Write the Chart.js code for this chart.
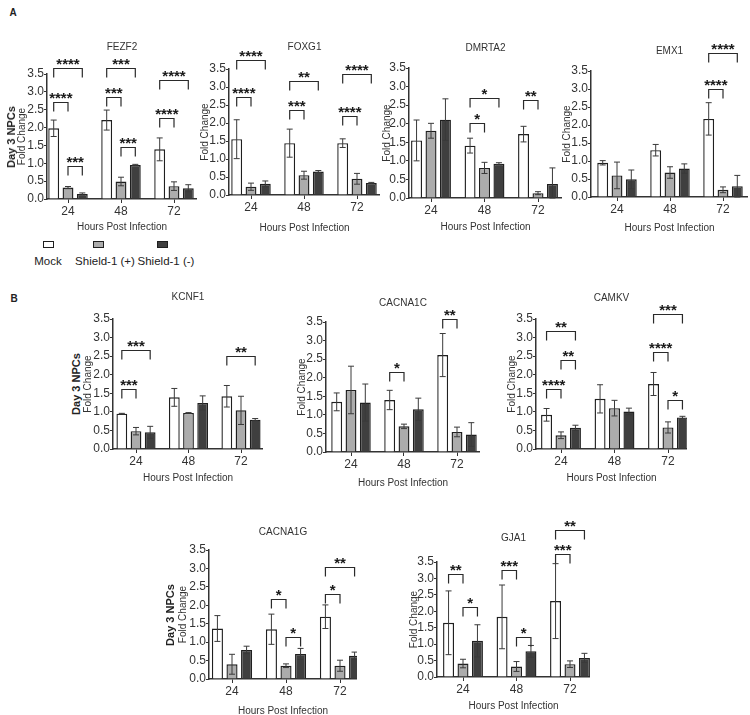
<!DOCTYPE html>
<html>
<head>
<meta charset="utf-8">
<script src="https://cdn.jsdelivr.net/npm/chart.js@4.4.1/dist/chart.umd.min.js"></script>
<style>
  html, body { margin: 0; padding: 0; background: #fff; }
  body { width: 750px; height: 715px; position: relative; overflow: hidden; font-family: 'Liberation Sans', Arial, sans-serif; color: #222; }
  canvas { position: absolute; }
  .txt { position: absolute; white-space: nowrap; }
  .panelLetter { font-weight: bold; font-size: 10px; transform: translate(-50%, -50%); }
  .rowLabel { font-weight: bold; font-size: 11px; transform: translate(-50%, -50%) rotate(-90deg); }
  .legBox { position: absolute; width: 9px; height: 5px; border: 1px solid #1f1f1f; }
  .legText { font-size: 11.5px; transform: translate(-50%, -50%); }
</style>
</head>
<body>

<div class="txt panelLetter" style="left:13px;top:12px">A</div>
<div class="txt panelLetter" style="left:14px;top:298px">B</div>

<!-- legend under FEZF2 -->
<div class="legBox" style="left:43px;top:241px;background:#ffffff"></div>
<div class="legBox" style="left:93px;top:241px;background:#acacac"></div>
<div class="legBox" style="left:157px;top:241px;background:#3f3f3f"></div>
<div class="txt legText" style="left:48px;top:261px">Mock</div>
<div class="txt legText" style="left:105px;top:261px">Shield-1 (+)</div>
<div class="txt legText" style="left:166px;top:261px">Shield-1 (-)</div>

<script>
// x categories and groups
const hours = ['24', '48', '72'];
const groups = ['Mock', 'Shield-1 (+)', 'Shield-1 (-)'];
const fills = ['#ffffff', '#acacac', '#3f3f3f'];

// mean fold change, rows = Mock, Shield-1 (+), Shield-1 (-); columns = 24, 48, 72 h
const fezf2Mean = [[1.98, 2.21, 1.39], [0.32, 0.49, 0.36], [0.14, 0.95, 0.30]];
const fezf2Err = [[0.23, 0.28, 0.32], [0.03, 0.12, 0.12], [0.03, 0.02, 0.10]];
// brackets: [time index, from group, to group, level, stars]
const fezf2Sig = [[0, 0, 2, 3.66, '****'], [0, 0, 1, 2.71, '****'], [0, 1, 2, 0.93, '***'],
                  [1, 0, 2, 3.66, '***'], [1, 0, 1, 2.85, '***'], [1, 1, 2, 1.47, '***'],
                  [2, 0, 2, 3.33, '****'], [2, 0, 1, 2.28, '****']];

const foxg1Mean = [[1.55, 1.44, 1.44], [0.23, 0.55, 0.45], [0.31, 0.65, 0.33]];
const foxg1Err = [[0.54, 0.39, 0.12], [0.10, 0.11, 0.15], [0.08, 0.03, 0.02]];
const foxg1Sig = [[0, 0, 2, 3.75, '****'], [0, 0, 1, 2.73, '****'],
                  [1, 0, 2, 3.17, '**'], [1, 0, 1, 2.35, '***'],
                  [2, 0, 2, 3.35, '****'], [2, 0, 1, 2.20, '****']];

const dmrta2Mean = [[1.55, 1.41, 1.72], [1.81, 0.81, 0.13], [2.11, 0.92, 0.38]];
const dmrta2Err = [[0.55, 0.20, 0.21], [0.20, 0.15, 0.04], [0.56, 0.03, 0.43]];
const dmrta2Sig = [[1, 0, 2, 2.69, '*'], [1, 0, 1, 2.02, '*'], [2, 0, 1, 2.65, '**']];

const emx1Mean = [[0.95, 1.30, 2.17], [0.60, 0.68, 0.20], [0.49, 0.79, 0.30]];
const emx1Err = [[0.06, 0.16, 0.45], [0.37, 0.16, 0.08], [0.26, 0.13, 0.30]];
const emx1Sig = [[2, 0, 2, 4.00, '****'], [2, 0, 1, 2.99, '****']];

const kcnf1Mean = [[0.95, 1.39, 1.42], [0.48, 0.97, 1.04], [0.45, 1.24, 0.79]];
const kcnf1Err = [[0.01, 0.24, 0.29], [0.10, 0.01, 0.38], [0.16, 0.19, 0.03]];
const kcnf1Sig = [[0, 0, 2, 2.67, '***'], [0, 0, 1, 1.62, '***'], [2, 0, 2, 2.51, '**']];

const cacna1cMean = [[1.35, 1.40, 2.61], [1.67, 0.69, 0.54], [1.33, 1.15, 0.47]];
const cacna1cErr = [[0.24, 0.26, 0.58], [0.64, 0.06, 0.13], [0.50, 0.30, 0.32]];
const cacna1cSig = [[1, 0, 1, 2.15, '*'], [2, 0, 1, 3.59, '**']];

const camkvMean = [[0.92, 1.35, 1.75], [0.37, 1.10, 0.58], [0.57, 1.01, 0.85]];
const camkvErr = [[0.17, 0.38, 0.31], [0.09, 0.21, 0.15], [0.07, 0.09, 0.03]];
const camkvSig = [[0, 0, 2, 3.17, '**'], [0, 1, 2, 2.39, '**'], [0, 0, 1, 1.62, '****'],
                  [2, 0, 2, 3.63, '***'], [2, 0, 1, 2.60, '****'], [2, 1, 2, 1.33, '*']];

const cacna1gMean = [[1.37, 1.35, 1.69], [0.40, 0.36, 0.36], [0.79, 0.68, 0.63]];
const cacna1gErr = [[0.35, 0.41, 0.32], [0.27, 0.05, 0.15], [0.10, 0.15, 0.10]];
const cacna1gSig = [[1, 0, 1, 2.16, '*'], [1, 1, 2, 1.15, '*'], [2, 0, 2, 3.05, '**'], [2, 0, 1, 2.30, '*']];

const gja1Mean = [[1.65, 1.83, 2.31], [0.41, 0.32, 0.39], [1.10, 0.78, 0.58]];
const gja1Err = [[0.97, 0.97, 1.14], [0.13, 0.15, 0.10], [0.49, 0.18, 0.14]];
const gja1Sig = [[0, 0, 1, 3.14, '**'], [0, 1, 2, 2.13, '*'], [1, 0, 1, 3.25, '***'], [1, 1, 2, 1.22, '*'],
                 [2, 0, 2, 4.48, '**'], [2, 0, 1, 3.75, '***']];

const yTicksMax = 3.5;
const yStep = 0.5;

const NARROW = "'Liberation Sans Narrow', 'Arial Narrow', 'Liberation Sans', Arial, sans-serif";
Chart.defaults.font.family = "'Liberation Sans', Arial, sans-serif";
Chart.defaults.color = '#333';

// where each small plot sits on the page (axis corner, plot top/bottom, first/last group centre)
const panels = [
  { gene: 'FEZF2', mean: fezf2Mean, err: fezf2Err, sig: fezf2Sig, rowLabelX: 11,
    box: { axisX: 47, right: 197, top: 74, bottom: 199, c0: 68, c2: 174, titleY: 47, yTitleX: 22, xTitleY: 227 } },
  { gene: 'FOXG1', mean: foxg1Mean, err: foxg1Err, sig: foxg1Sig,
    box: { axisX: 229, right: 380, top: 69, bottom: 195, c0: 251, c2: 357, titleY: 47, yTitleX: 205, xTitleY: 228 } },
  { gene: 'DMRTA2', mean: dmrta2Mean, err: dmrta2Err, sig: dmrta2Sig,
    box: { axisX: 409, right: 562, top: 68, bottom: 198, c0: 431, c2: 538, titleY: 48, yTitleX: 387, xTitleY: 227 } },
  { gene: 'EMX1', mean: emx1Mean, err: emx1Err, sig: emx1Sig,
    box: { axisX: 591, right: 748, top: 71, bottom: 197, c0: 617, c2: 723, titleY: 51, yTitleX: 567, xTitleY: 228 } },
  { gene: 'KCNF1', mean: kcnf1Mean, err: kcnf1Err, sig: kcnf1Sig, rowLabelX: 76,
    box: { axisX: 113, right: 263, top: 319, bottom: 449, c0: 136, c2: 241, titleY: 297, yTitleX: 88, xTitleY: 478 } },
  { gene: 'CACNA1C', mean: cacna1cMean, err: cacna1cErr, sig: cacna1cSig,
    box: { axisX: 326, right: 480, top: 322, bottom: 452, c0: 351, c2: 457, titleY: 303, yTitleX: 302, xTitleY: 483 } },
  { gene: 'CAMKV', mean: camkvMean, err: camkvErr, sig: camkvSig,
    box: { axisX: 536, right: 687, top: 319, bottom: 449, c0: 561, c2: 668, titleY: 298, yTitleX: 512, xTitleY: 478 } },
  { gene: 'CACNA1G', mean: cacna1gMean, err: cacna1gErr, sig: cacna1gSig, rowLabelX: 170,
    box: { axisX: 209, right: 357, top: 550, bottom: 679, c0: 232, c2: 340, titleY: 532, yTitleX: 183, xTitleY: 711 } },
  { gene: 'GJA1', mean: gja1Mean, err: gja1Err, sig: gja1Sig,
    box: { axisX: 437, right: 590, top: 562, bottom: 677, c0: 463, c2: 570, titleY: 538, yTitleX: 414, xTitleY: 706 } }
];

// error bars + significance brackets, drawn after the bars
const annotate = {
  id: 'annotate',
  afterDatasetsDraw(chart, args, opts) {
    const ctx = chart.ctx;
    const y = chart.scales.y;
    ctx.save();
    ctx.strokeStyle = '#3a3a3a';
    ctx.lineWidth = 1;
    opts.err.forEach((row, d) => {
      chart.getDatasetMeta(d).data.forEach((bar, i) => {
        const m = chart.data.datasets[d].data[i].y;
        const top = y.getPixelForValue(m + row[i]);
        const bot = y.getPixelForValue(Math.max(0, m - row[i]));
        ctx.beginPath();
        ctx.moveTo(bar.x, top); ctx.lineTo(bar.x, bot);
        ctx.moveTo(bar.x - 3, top); ctx.lineTo(bar.x + 3, top);
        ctx.moveTo(bar.x - 3, bot); ctx.lineTo(bar.x + 3, bot);
        ctx.stroke();
      });
    });

    ctx.strokeStyle = '#2a2a2a';
    ctx.lineWidth = 1.2;
    ctx.fillStyle = '#1a1a1a';
    ctx.font = "bold 15px 'Liberation Sans', Arial, sans-serif";
    ctx.textAlign = 'center';
    ctx.textBaseline = 'alphabetic';
    opts.sig.forEach(([g, a, b, level, stars]) => {
      const x1 = chart.getDatasetMeta(a).data[g].x;
      const x2 = chart.getDatasetMeta(b).data[g].x;
      const yy = Math.round(y.getPixelForValue(level)) + 0.5;
      ctx.beginPath();
      ctx.moveTo(x1, yy + 9); ctx.lineTo(x1, yy); ctx.lineTo(x2, yy); ctx.lineTo(x2, yy + 9);
      ctx.stroke();
      ctx.fillText(stars, (x1 + x2) / 2, yy + 0.5);
    });
    ctx.restore();
  }
};

function makePanel(p) {
  const b = p.box;
  const top = b.top - 62;
  const left = b.yTitleX - 6;
  const yw = b.axisX - left;
  const xh = b.xTitleY - b.bottom + 6;
  const s = (b.c2 - b.c0) / 2;

  const canvas = document.createElement('canvas');
  canvas.width = b.right - left;
  canvas.height = b.bottom + xh - top;
  canvas.style.left = left + 'px';
  canvas.style.top = top + 'px';
  document.body.appendChild(canvas);

  if (p.rowLabelX) {
    const lab = document.createElement('div');
    lab.className = 'txt rowLabel';
    lab.textContent = 'Day 3 NPCs';
    lab.style.left = p.rowLabelX + 'px';
    lab.style.top = ((b.top + b.bottom) / 2) + 'px';
    document.body.appendChild(lab);
  }

  const datasets = groups.map((name, d) => ({
    label: name,
    data: p.mean[d].map((v, i) => ({ x: i, y: v })),
    backgroundColor: fills[d],
    borderColor: '#1f1f1f',
    borderWidth: 1.4,
    categoryPercentage: 0.81,
    barPercentage: 0.76
  }));

  new Chart(canvas, {
    type: 'bar',
    data: { datasets },
    options: {
      responsive: false,
      animation: false,
      devicePixelRatio: 1,
      layout: { padding: { top: b.titleY - 6 - top, left: 0, right: 0, bottom: 0 } },
      plugins: {
        legend: { display: false },
        tooltip: { enabled: false },
        title: {
          display: true, text: p.gene, fullSize: false, color: '#333',
          font: { family: NARROW, size: 10, weight: 'normal', lineHeight: 1.2 },
          padding: { top: 0, bottom: b.top - b.titleY - 6 }
        },
        annotate: { err: p.err, sig: p.sig }
      },
      scales: {
        x: {
          type: 'linear',
          offset: false,
          min: (b.axisX - b.c0) / s,
          max: 2 + (b.right - b.c2) / s,
          afterBuildTicks: sc => { sc.ticks = hours.map((h, i) => ({ value: i })); },
          afterFit: sc => { sc.height = xh; },
          ticks: { callback: (v, i) => hours[i], font: { family: NARROW, size: 12 }, color: '#333', padding: 1, autoSkip: false, maxRotation: 0 },
          grid: { offset: false, drawOnChartArea: false, tickLength: 4, color: '#333' },
          border: { color: '#333', width: 1.5 },
          title: { display: true, text: 'Hours Post Infection', color: '#333', font: { family: NARROW, size: 10, lineHeight: 1.2 }, padding: 0 }
        },
        y: {
          min: 0, max: yTicksMax,
          afterFit: sc => { sc.width = yw; },
          ticks: { stepSize: yStep, autoSkip: false, callback: v => v.toFixed(1), font: { family: NARROW, size: 12, lineHeight: 1 }, color: '#333', padding: 0 },
          grid: { drawOnChartArea: false, tickLength: 3, color: '#333' },
          border: { color: '#333', width: 1.5 },
          title: { display: true, text: 'Fold Change', color: '#333', font: { size: 10, lineHeight: 1.2 }, padding: 0 }
        }
      }
    },
    plugins: [annotate]
  });
}

panels.forEach(makePanel);
</script>
</body>
</html>
